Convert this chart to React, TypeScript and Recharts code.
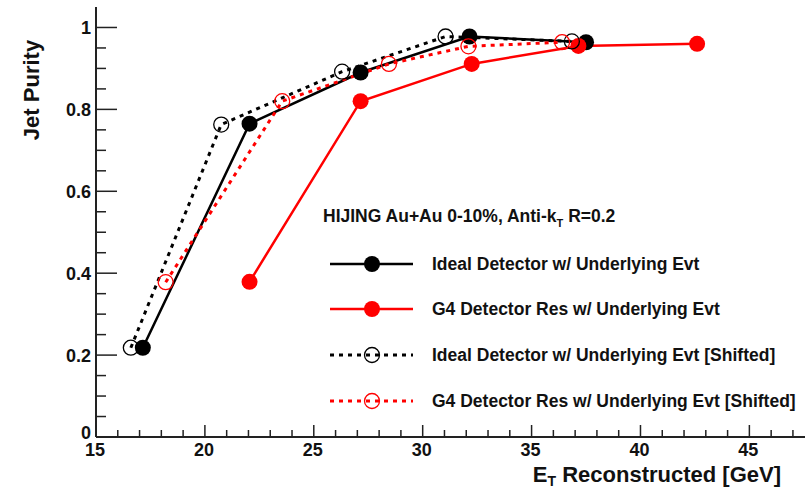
import { LineChart, Line, XAxis, YAxis, Legend } from "recharts";

const font = "'Liberation Sans', Arial, Helvetica, sans-serif";
const frame = "#222";

// E_T reconstructed [GeV] and jet purity
const idealEt = [17.15, 22.05, 27.15, 32.15, 37.5];
const idealPurity = [0.218, 0.765, 0.89, 0.978, 0.964];
const g4Et = [22.05, 27.15, 32.25, 37.15, 42.6];
const g4Purity = [0.379, 0.82, 0.911, 0.955, 0.96];
const idealShiftEt = [16.6, 20.75, 26.3, 31.05, 36.85];
const idealShiftPurity = [0.218, 0.763, 0.892, 0.978, 0.966];
const g4ShiftEt = [18.2, 23.55, 28.45, 32.1, 36.4];
const g4ShiftPurity = [0.378, 0.82, 0.911, 0.954, 0.964];

// axis ticks (minor every 1 GeV / 0.05, labels on the majors)
const xTicks = [15, 16, 17, 18, 19, 20, 21, 22, 23, 24, 25, 26, 27, 28, 29, 30, 31, 32, 33, 34, 35, 36, 37, 38, 39, 40, 41, 42, 43, 44, 45, 46, 47];
const xLabels = [15, 20, 25, 30, 35, 40, 45];
const yTicks = [0, 0.05, 0.1, 0.15, 0.2, 0.25, 0.3, 0.35, 0.4, 0.45, 0.5, 0.55, 0.6, 0.65, 0.7, 0.75, 0.8, 0.85, 0.9, 0.95, 1];
const yLabels = [0, 0.2, 0.4, 0.6, 0.8, 1];
const yLabelText = ["0", "0.2", "0.4", "0.6", "0.8", "1"];

const toPoints = (xs: number[], ys: number[]) => xs.map((x, i) => ({ x, y: ys[i] }));

const series = [
  { name: "Ideal Detector w/ Underlying Evt", color: "#000", dashed: false, filled: true, data: toPoints(idealEt, idealPurity) },
  { name: "G4 Detector Res w/ Underlying Evt", color: "#ff0000", dashed: false, filled: true, data: toPoints(g4Et, g4Purity) },
  { name: "Ideal Detector w/ Underlying Evt [Shifted]", color: "#000", dashed: true, filled: false, data: toPoints(idealShiftEt, idealShiftPurity) },
  { name: "G4 Detector Res w/ Underlying Evt [Shifted]", color: "#ff0000", dashed: true, filled: false, data: toPoints(g4ShiftEt, g4ShiftPurity) },
];

const isYMajor = (v: number) => yLabels.some((l) => Math.abs(l - v) < 1e-6);

const BottomTick = ({ x, y, payload }: any) => {
  const major = xLabels.includes(payload.value);
  return (
    <g>
      <line x1={x} x2={x} y1={y} y2={y - (major ? 12 : 7)} stroke={frame} strokeWidth={1.5} />
      {major && (
        <text x={x - 1} y={y + 19} textAnchor="middle" fontFamily={font} fontWeight="bold" fontSize={18} fill="#111">
          {payload.value}
        </text>
      )}
    </g>
  );
};

const TopTick = ({ x, y, payload }: any) => {
  const major = xLabels.includes(payload.value);
  return <line x1={x} x2={x} y1={y} y2={y + (major ? 13 : 7)} stroke={frame} strokeWidth={1.5} />;
};

const LeftTick = ({ x, y, payload }: any) => {
  const major = isYMajor(payload.value);
  const idx = yLabels.findIndex((l) => Math.abs(l - payload.value) < 1e-6);
  // the "0" sits a touch higher so it clears the "15" below it
  const shift = idx === 0 ? -4 : 0;
  return (
    <g>
      <line x1={x} x2={x + (major ? 21 : 10)} y1={y} y2={y} stroke={frame} strokeWidth={1.5} />
      {major && (
        <text x={x - 5} y={y + shift} dy="0.36em" textAnchor="end" fontFamily={font} fontWeight="bold" fontSize={18} fill="#111">
          {yLabelText[idx]}
        </text>
      )}
    </g>
  );
};

const RightTick = ({ x, y, payload }: any) => {
  const major = isYMajor(payload.value);
  return <line x1={x} x2={x - (major ? 20 : 9)} y1={y} y2={y} stroke={frame} strokeWidth={1.5} />;
};

const XTitle = ({ viewBox }: any) => (
  <text x={viewBox.x + viewBox.width - 25} y={viewBox.y + 45} textAnchor="end" fontFamily={font} fontWeight="bold" fontSize={22} fill="#111">
    E<tspan fontSize={14} dy={4}>T</tspan>
    <tspan dy={-4}> Reconstructed [GeV]</tspan>
  </text>
);

const YTitle = ({ viewBox }: any) => {
  const cx = viewBox.x + 31;
  const cy = viewBox.y + 83;
  return (
    <text x={cx} y={cy} dy="0.35em" textAnchor="middle" transform={`rotate(-90, ${cx}, ${cy})`} fontFamily={font} fontWeight="bold" fontSize={22} fill="#111">
      Jet Purity
    </text>
  );
};

const rowY = [69, 114, 160, 206];

const LegendBox = () => (
  <svg width={490} height={220} style={{ overflow: "visible" }}>
    <text x={5} y={27} fontFamily={font} fontWeight="bold" fontSize={17.5} fill="#111">
      HIJING Au+Au 0-10%, Anti-k<tspan fontSize={11} dy={5}>T</tspan>
      <tspan dy={-5}> R=0.2</tspan>
    </text>
    {series.map((s, i) => (
      <g key={s.name}>
        <line x1={12} x2={95} y1={rowY[i]} y2={rowY[i]} stroke={s.color} strokeWidth={s.dashed ? 3 : 2.5} strokeDasharray={s.dashed ? "4 5" : undefined} />
        <circle cx={54} cy={rowY[i]} r={s.filled ? 8 : 7.5} fill={s.filled ? s.color : "none"} stroke={s.color} strokeWidth={s.filled ? 0 : 1.3} />
        <text x={114} y={rowY[i]} dy="0.36em" fontFamily={font} fontWeight="bold" fontSize={17.5} fill="#111">
          {s.name}
        </text>
      </g>
    ))}
  </svg>
);

export default function App() {
  return (
    <div style={{ position: "absolute", left: 0, top: 0, width: 805, height: 489, overflow: "hidden", background: "#fff" }}>
      <LineChart width={808} height={489} margin={{ top: 7, right: 2, bottom: 0, left: 0 }}>
        <XAxis
          xAxisId="bottom"
          dataKey="x"
          type="number"
          domain={[15, 47.6]}
          allowDataOverflow
          ticks={xTicks}
          interval={0}
          height={52}
          tickSize={0}
          tickMargin={0}
          tickLine={false}
          axisLine={{ stroke: frame, strokeWidth: 2 }}
          tick={<BottomTick />}
          label={<XTitle />}
        />
        <XAxis
          xAxisId="top"
          orientation="top"
          dataKey="x"
          type="number"
          domain={[15, 47.6]}
          allowDataOverflow
          ticks={xTicks}
          interval={0}
          height={0}
          tickSize={0}
          tickMargin={0}
          tickLine={false}
          axisLine={{ stroke: frame, strokeWidth: 2 }}
          tick={<TopTick />}
        />
        <YAxis
          yAxisId="left"
          type="number"
          domain={[0, 1.05]}
          allowDataOverflow
          ticks={yTicks}
          interval={0}
          width={96}
          tickSize={0}
          tickMargin={0}
          tickLine={false}
          axisLine={{ stroke: frame, strokeWidth: 2 }}
          tick={<LeftTick />}
          label={<YTitle />}
        />
        <YAxis
          yAxisId="right"
          orientation="right"
          type="number"
          domain={[0, 1.05]}
          allowDataOverflow
          ticks={yTicks}
          interval={0}
          width={0}
          tickSize={0}
          tickMargin={0}
          tickLine={false}
          axisLine={{ stroke: frame, strokeWidth: 2 }}
          tick={<RightTick />}
        />
        {series.map((s) => (
          <Line
            key={s.name}
            xAxisId="bottom"
            yAxisId="left"
            data={s.data}
            dataKey="y"
            name={s.name}
            type="linear"
            stroke={s.color}
            strokeWidth={s.dashed ? 3 : 2.5}
            strokeDasharray={s.dashed ? "4 5" : undefined}
            dot={{ r: s.filled ? 8 : 7.5, fill: s.filled ? s.color : "none", stroke: s.color, strokeWidth: s.filled ? 0 : 1.3, strokeDasharray: "none" }}
            activeDot={false}
            isAnimationActive={false}
          />
        ))}
        <Legend
          layout="vertical"
          align="center"
          verticalAlign="middle"
          wrapperStyle={{ left: 318, top: 195, width: 490, height: 220 }}
          content={() => <LegendBox />}
        />
      </LineChart>
    </div>
  );
}
